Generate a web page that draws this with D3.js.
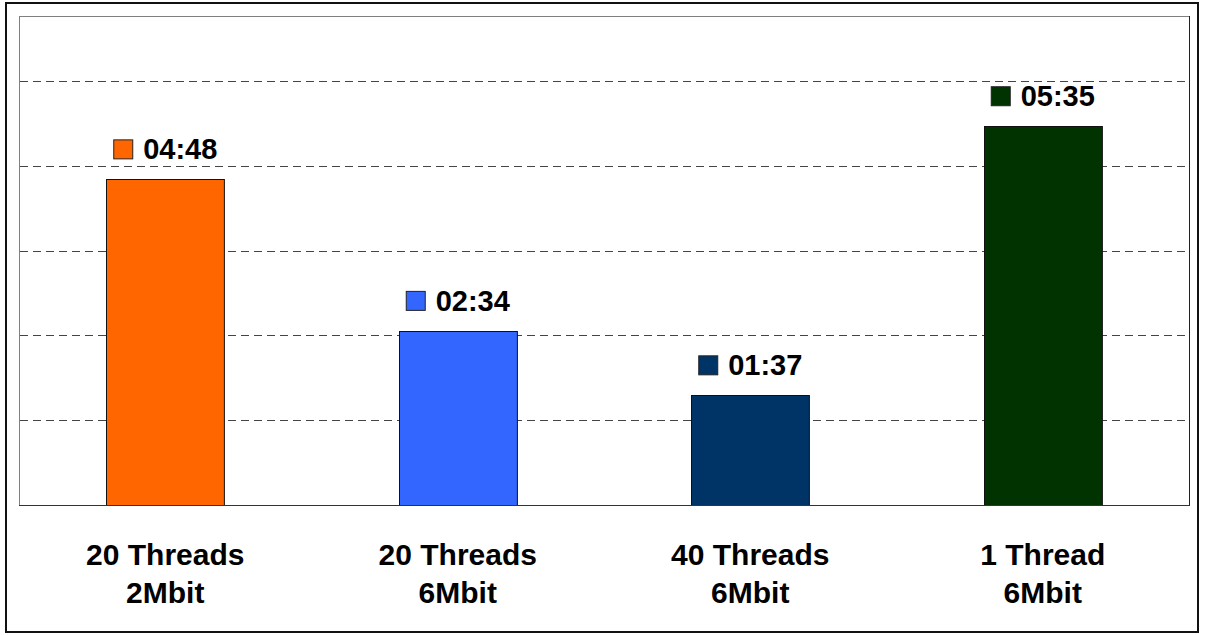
<!DOCTYPE html>
<html>
<head>
<meta charset="utf-8">
<script src="https://cdn.jsdelivr.net/npm/d3@7"></script>
<style>
  html, body { margin: 0; padding: 0; background: #fff; }
  svg { display: block; font-family: "Liberation Sans", Arial, sans-serif; }
</style>
</head>
<body>
<svg id="chart" width="1206" height="635"></svg>
<script>
// Download time per configuration (mm:ss)
const categories = [["20 Threads", "2Mbit"], ["20 Threads", "6Mbit"], ["40 Threads", "6Mbit"], ["1 Thread", "6Mbit"]];
const timeLabels = ["04:48", "02:34", "01:37", "05:35"];
const barColors = ["#FF6600", "#3366FF", "#003366", "#003300"];
// seconds, parsed from the labels so bars and labels agree
const seconds = timeLabels.map(t => { const [m, s] = t.split(":").map(Number); return m * 60 + s; });
const gridTicks = [75, 150, 225, 300, 375];

const svg = d3.select("#chart");
const plot = { left: 19, right: 1189, top: 16, bottom: 505 };

// outer frame
svg.append("rect").attr("x", 6).attr("y", 3).attr("width", 1192).attr("height", 629)
  .attr("fill", "#fff").attr("stroke", "#111").attr("stroke-width", 2);

const x = d3.scaleBand()
  .domain(d3.range(categories.length))
  .range([plot.left, plot.right])
  .paddingInner(0.597).paddingOuter(0.2985);

const y = d3.scaleLinear().domain([0, 375]).range([plot.bottom, 81]);

// plot area border
svg.append("line").attr("x1", plot.left + 0.5).attr("x2", plot.left + 0.5)
  .attr("y1", plot.top).attr("y2", plot.bottom).attr("stroke", "#808080");
svg.append("line").attr("x1", plot.left).attr("x2", plot.right)
  .attr("y1", plot.top + 0.5).attr("y2", plot.top + 0.5).attr("stroke", "#808080");
svg.append("line").attr("x1", plot.right + 0.5).attr("x2", plot.right + 0.5)
  .attr("y1", plot.top).attr("y2", plot.bottom).attr("stroke", "#222");

// dashed gridlines
svg.append("g").selectAll("line").data(gridTicks).join("line")
  .attr("x1", plot.left + 1).attr("x2", plot.right)
  .attr("y1", d => Math.round(y(d)) + 0.5).attr("y2", d => Math.round(y(d)) + 0.5)
  .attr("stroke", "#444").attr("stroke-dasharray", "8,5");

// bars
svg.append("g").selectAll("rect").data(seconds).join("rect")
  .attr("x", (d, i) => Math.round(x(i)) + 0.5)
  .attr("y", d => Math.round(y(d)) + 0.5)
  .attr("width", x.bandwidth())
  .attr("height", d => y(0) - Math.round(y(d)))
  .attr("fill", (d, i) => barColors[i])
  .attr("stroke", "#111").attr("stroke-width", 1);

// x axis baseline
svg.append("line").attr("x1", plot.left).attr("x2", plot.right + 1)
  .attr("y1", plot.bottom + 0.5).attr("y2", plot.bottom + 0.5).attr("stroke", "#333");

// value labels with colour key
const lab = svg.append("g").selectAll("g").data(seconds).join("g")
  .attr("transform", (d, i) => `translate(${x(i) + x.bandwidth() / 2},${y(d) - 20})`);
lab.each(function(d, i) {
  const g = d3.select(this);
  const t = g.append("text").attr("x", 0).attr("y", 0)
    .attr("font-size", 29).attr("font-weight", "bold").attr("fill", "#000")
    .text(timeLabels[i]);
  const tw = t.node().getComputedTextLength();
  const total = 20 + 10 + tw;
  const x0 = -total / 2;
  g.append("rect").attr("x", Math.round(x0) + 0.5).attr("y", -19.5).attr("width", 19).attr("height", 19)
    .attr("fill", barColors[i]).attr("stroke", "#222");
  t.attr("x", x0 + 30);
});

// category labels
const cat = svg.append("g").selectAll("text").data(categories).join("text")
  .attr("text-anchor", "middle").attr("font-size", 30).attr("font-weight", "bold").attr("fill", "#000");
cat.each(function(d, i) {
  const cx = x(i) + x.bandwidth() / 2;
  d3.select(this).selectAll("tspan").data(d).join("tspan")
    .attr("x", cx).attr("y", (s, j) => 565 + j * 38).text(s => s);
});
</script>
</body>
</html>
